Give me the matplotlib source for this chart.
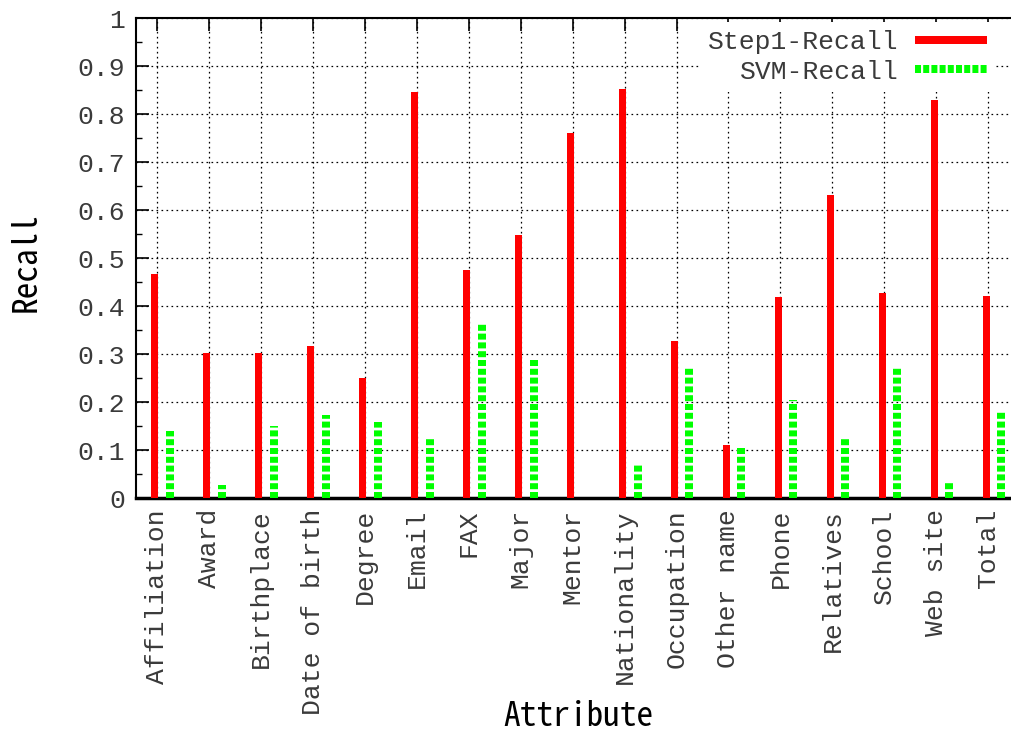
import matplotlib
matplotlib.use("Agg")
import matplotlib.pyplot as plt
import numpy as np
from matplotlib.lines import Line2D

categories = ["Affiliation", "Award", "Birthplace", "Date of birth", "Degree", "Email",
              "FAX", "Major", "Mentor", "Nationality", "Occupation", "Other name",
              "Phone", "Relatives", "School", "Web site", "Total"]
step1_recall = [0.466, 0.303, 0.303, 0.317, 0.251, 0.845, 0.476, 0.548, 0.760,
                0.853, 0.327, 0.110, 0.419, 0.631, 0.428, 0.829, 0.420]
svm_recall = [0.140, 0.027, 0.151, 0.173, 0.158, 0.123, 0.364, 0.289, 0.0,
              0.069, 0.271, 0.106, 0.204, 0.123, 0.270, 0.032, 0.180]
yticks = [0, 0.1, 0.2, 0.3, 0.4, 0.5, 0.6, 0.7, 0.8, 0.9, 1]
ytick_labels = ["0", "0.1", "0.2", "0.3", "0.4", "0.5", "0.6", "0.7", "0.8", "0.9", "1"]

plt.rcParams['lines.scale_dashes'] = False
W, H = 1011, 733
DPI = 100
fig = plt.figure(figsize=(W / DPI, H / DPI), dpi=DPI)
px = 72.0 / DPI

left, right, top, bottom = 136, 1014, 18, 498
ax = fig.add_axes([left / W, (H - bottom) / H, (right - left) / W, (bottom - top) / H])

mono = ['Liberation Mono', 'DejaVu Sans Mono']
label_font = ['Noto Sans Mono CJK JP', 'Noto Sans CJK JP', 'DejaVu Sans']
txt_color = '#3a3a3a'

x = np.arange(len(categories))
ax.bar(x - 0.042, step1_recall, width=0.14, color='#ff0000', zorder=3, linewidth=0)
ax.vlines(x + 0.25, 0, svm_recall, colors='#00ff00', linewidth=8 * px,
          linestyles=[(0, (6 * px, 2.8 * px))], zorder=3, capstyle='butt')

ax.set_xlim((left - 156.7) / 51.98, (right - 156.7) / 51.98)
ax.set_ylim(0, 1)
ax.set_yticks(yticks)
ax.set_yticklabels(ytick_labels, family=mono, fontsize=19, color=txt_color)
ax.set_yticks(np.arange(0.05, 1.0, 0.1), minor=True)
ax.set_xticks(x)
ax.set_xticklabels(categories, rotation=90, family=mono, fontsize=19, color=txt_color)
ax.tick_params(axis='both', which='major', direction='in', length=9, width=1.2,
               top=True, right=False, pad=6)
ax.tick_params(axis='y', which='minor', direction='in', length=4, width=1.0, right=False)
ax.tick_params(axis='y', which='major', pad=8)
ax.tick_params(axis='x', pad=8)
ax.grid(True, which='major', color='black', linestyle=(0, (1.2, 2.4)), linewidth=0.9, zorder=1)
ax.set_axisbelow(True)
for s in ax.spines.values():
    s.set_linewidth(1.5)
ax.spines['bottom'].set_linewidth(2.5)

fig.text(26 / W, 1 - 262 / H, "Recall", rotation=90, ha='center', va='center',
         family=label_font, fontsize=24)
fig.text(578 / W, 1 - 717 / H, "Attribute", ha='center', va='center',
         family=label_font, fontsize=24)

h1 = Line2D([], [], color='#ff0000', linewidth=8 * px, solid_capstyle='butt')
h2 = Line2D([], [], color='#00ff00', linewidth=8 * px, linestyle=(0, (6 * px, 2.2 * px)),
            dash_capstyle='butt')
leg = ax.legend([h1, h2], ["Step1-Recall", "SVM-Recall"], loc='upper right',
                bbox_to_anchor=(995 / W, 1 - 22 / H), bbox_transform=fig.transFigure,
                markerfirst=False, prop={'family': mono, 'size': 19},
                handlelength=2.75, handletextpad=0.6, labelspacing=0.22,
                borderpad=0.3, borderaxespad=0, frameon=True, fancybox=False)
leg.get_frame().set_facecolor('white')
leg.get_frame().set_edgecolor('none')
leg.get_frame().set_alpha(1)
leg.set_zorder(5)
for t in leg.get_texts():
    t.set_color(txt_color)

fig.savefig("out.png", dpi=DPI)
